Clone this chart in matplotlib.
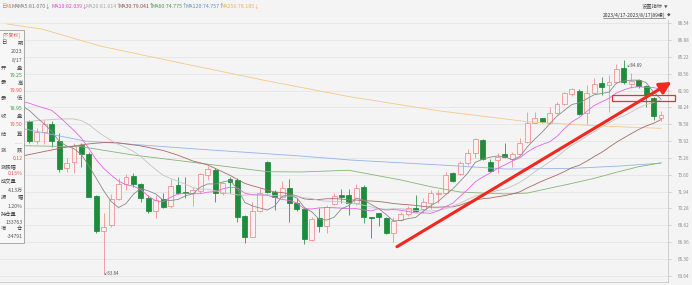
import numpy as np
import matplotlib
matplotlib.use("Agg")
import matplotlib.pyplot as plt
from matplotlib.patches import Rectangle, FancyArrowPatch
from matplotlib.lines import Line2D

plt.rcParams['font.family'] = ['Noto Sans CJK SC', 'DejaVu Sans']

W, H = 692, 285

# ---------------- data ----------------
opens = [80.58, 78.94, 76.96, 77.85, 78.61, 76.93, 74.24, 74.83, 76.54, 75.62,
         71.51, 68.09, 68.65, 71.22, 72.69, 73.48, 72.66, 71.34, 70.03, 71.19,
         70.53, 72.60, 71.94, 71.78, 72.01, 73.58, 74.07, 71.78, 73.16, 73.09,
         69.54, 67.50, 70.06, 74.89, 71.94, 71.44, 72.33, 70.85, 70.20, 67.17,
         69.31, 68.55, 70.70, 71.64, 71.61, 70.79, 72.37, 69.46, 69.81, 69.37,
         67.89, 69.15, 69.71, 70.36, 70.20, 70.79, 71.71, 71.78, 73.75, 73.68,
         74.73, 75.72, 77.03, 74.89, 75.06, 75.70, 75.13, 75.62, 76.86, 78.74,
         79.17, 78.74, 79.66, 80.55, 81.54, 81.89, 79.66, 81.64, 82.68, 82.46,
         82.72, 84.10, 82.55, 82.95, 82.36, 81.14, 79.25]
highs = [80.98, 79.00, 78.22, 79.00, 78.94, 77.72, 75.26, 76.77, 76.71, 75.88,
         71.61, 69.84, 71.71, 73.32, 73.65, 73.75, 72.76, 71.61, 71.61, 71.78,
         73.16, 73.41, 73.41, 72.43, 73.81, 74.47, 74.27, 72.92, 73.41, 73.26,
         69.64, 70.95, 72.27, 74.96, 72.10, 73.02, 73.16, 71.29, 70.30, 69.47,
         70.30, 70.62, 71.84, 72.20, 72.20, 72.66, 72.60, 69.47, 69.86, 69.47,
         69.47, 69.93, 70.56, 71.61, 71.29, 72.10, 72.10, 73.91, 73.91, 74.96,
         76.15, 77.20, 77.10, 75.16, 75.78, 76.71, 75.88, 77.20, 79.82, 79.82,
         79.23, 80.32, 80.81, 81.80, 82.19, 82.03, 82.46, 83.12, 83.27, 83.44,
         84.53, 84.89, 83.67, 83.02, 82.46, 81.30, 79.90]
lows = [78.91, 76.77, 76.64, 76.64, 76.37, 73.91, 73.91, 73.81, 74.40, 71.38,
        67.89, 63.84, 68.49, 71.12, 72.10, 72.43, 70.95, 69.86, 69.31, 70.30,
        70.30, 71.71, 71.29, 70.53, 71.78, 73.09, 70.95, 71.61, 71.78, 68.98,
        66.91, 67.44, 69.93, 71.78, 70.13, 71.29, 68.98, 70.06, 66.78, 67.10,
        67.99, 67.83, 70.62, 70.85, 69.64, 70.62, 68.88, 67.34, 68.55, 67.76,
        67.01, 69.08, 69.57, 69.96, 69.80, 70.20, 70.79, 71.71, 72.92, 73.58,
        74.57, 75.23, 75.06, 73.88, 73.75, 75.23, 74.40, 75.55, 76.77, 78.68,
        78.68, 78.61, 79.60, 80.48, 81.40, 79.50, 78.61, 81.54, 81.47, 79.82,
        82.62, 82.55, 82.13, 82.19, 80.32, 79.00, 78.95]
closes = [79.10, 76.96, 77.85, 78.58, 76.96, 74.14, 74.73, 76.47, 75.62, 71.44,
          68.06, 68.49, 71.22, 72.66, 73.41, 72.69, 71.29, 70.03, 71.12, 70.40,
          72.53, 71.78, 71.84, 72.10, 73.65, 74.14, 71.78, 72.76, 72.92, 69.47,
          67.44, 70.06, 71.78, 71.88, 71.38, 72.27, 70.79, 70.23, 67.24, 69.21,
          68.58, 70.46, 71.56, 71.44, 70.79, 72.27, 69.47, 69.36, 69.47, 67.89,
          69.08, 69.71, 70.30, 70.03, 70.89, 71.78, 71.84, 73.58, 73.02, 74.73,
          75.72, 77.10, 75.13, 74.01, 75.36, 75.31, 75.62, 76.71, 78.74, 79.17,
          78.78, 79.66, 80.55, 81.64, 82.03, 79.60, 81.64, 82.52, 82.29, 82.72,
          84.03, 82.72, 82.88, 82.36, 81.47, 79.38, 79.50]

ma5 = [80.39, 79.94, 79.24, 78.61, 77.89, 76.90, 76.45, 76.18, 75.58, 74.48,
       73.26, 72.02, 70.97, 70.37, 70.77, 71.69, 72.25, 72.02, 71.71, 71.11,
       71.07, 71.17, 71.53, 71.73, 72.38, 72.70, 72.70, 72.89, 73.05, 72.21,
       70.87, 70.53, 70.33, 70.13, 70.51, 71.47, 71.62, 71.31, 70.38, 69.95,
       69.21, 69.14, 69.41, 70.25, 70.57, 71.30, 71.11, 70.67, 70.27, 69.69,
       69.05, 69.10, 69.29, 69.40, 70.00, 70.54, 70.97, 71.62, 72.22, 72.99,
       73.78, 74.83, 75.14, 75.34, 75.46, 75.38, 75.09, 75.40, 76.35, 77.11,
       77.80, 78.61, 79.38, 79.96, 80.53, 80.70, 81.09, 81.49, 81.62, 81.75,
       82.64, 82.86, 82.93, 82.94, 82.69, 81.76, 81.07]
ma10 = [80.85, 80.65, 80.40, 80.18, 79.96, 79.34, 78.66, 77.97, 77.21, 76.19,
        75.08, 74.23, 73.57, 72.98, 72.62, 72.48, 72.14, 71.49, 71.04, 70.94,
        71.38, 71.71, 71.78, 71.72, 71.74, 71.89, 71.94, 72.21, 72.39, 72.30,
        71.79, 71.62, 71.61, 71.59, 71.36, 71.17, 71.08, 70.82, 70.25, 70.23,
        70.34, 70.38, 70.36, 70.32, 70.26, 70.26, 70.13, 70.04, 70.26, 70.13,
        70.18, 70.10, 69.98, 69.84, 69.85, 69.80, 70.04, 70.46, 70.81, 71.50,
        72.16, 72.90, 73.38, 73.78, 74.23, 74.58, 74.96, 75.27, 75.84, 76.29,
        76.59, 76.85, 77.39, 78.15, 78.82, 79.25, 79.85, 80.43, 80.79, 81.14,
        81.67, 81.97, 82.21, 82.28, 82.22, 82.20, 82.04]
ma20 = [78.75, 78.85, 78.95, 79.00, 79.05, 79.10, 79.12, 79.10, 78.95, 78.56,
        77.97, 77.44, 76.99, 76.58, 76.29, 75.91, 75.40, 74.73, 74.13, 73.56,
        73.23, 72.97, 72.67, 72.35, 72.18, 72.18, 72.04, 71.85, 71.72, 71.62,
        71.59, 71.66, 71.69, 71.65, 71.55, 71.53, 71.51, 71.52, 71.32, 71.26,
        71.07, 71.00, 70.99, 70.95, 70.81, 70.72, 70.60, 70.43, 70.26, 70.18,
        70.26, 70.24, 70.17, 70.08, 70.05, 70.03, 70.08, 70.25, 70.54, 70.81,
        71.17, 71.50, 71.68, 71.81, 72.04, 72.19, 72.50, 72.86, 73.33, 73.89,
        74.38, 74.87, 75.39, 75.97, 76.52, 76.92, 77.41, 77.85, 78.32, 78.72,
        79.13, 79.41, 79.80, 80.22, 80.52, 80.73, 81.01]
ma30 = [75.45, 75.60, 75.75, 75.90, 76.05, 76.20, 76.33, 76.45, 76.55, 76.65,
        76.72, 76.78, 76.80, 76.75, 76.65, 76.55, 76.45, 76.30, 76.15, 76.00,
        75.77, 75.53, 75.25, 74.96, 74.78, 74.57, 74.24, 73.89, 73.55, 73.14,
        72.75, 72.52, 72.32, 72.10, 71.91, 71.85, 71.72, 71.51, 71.23, 71.15,
        71.17, 71.24, 71.25, 71.21, 71.12, 71.11, 71.05, 71.02, 70.97, 70.88,
        70.77, 70.70, 70.65, 70.58, 70.49, 70.41, 70.41, 70.44, 70.44, 70.62,
        70.89, 71.13, 71.24, 71.31, 71.44, 71.55, 71.71, 71.92, 72.31, 72.64,
        72.98, 73.28, 73.58, 73.92, 74.30, 74.54, 74.95, 75.39, 75.81, 76.31,
        76.81, 77.24, 77.66, 78.07, 78.42, 78.68, 79.04]
ma60_idx = [0, 8, 15, 24, 33, 37.5, 44, 51, 55, 59, 62, 65, 68, 71, 74, 77, 80, 83, 86]
ma60_val = [76.47, 76.37, 75.55, 74.74, 73.91, 73.88, 74.05, 73.09, 72.43, 71.90,
            71.80, 71.72, 71.80, 72.28, 72.75, 73.25, 73.85, 74.40, 74.775]
ma120_idx = [0, 8.5, 13.2, 24, 37.4, 44.2, 56.3, 65.3, 74.2, 80.5, 86]
ma120_val = [78.17, 76.93, 76.69, 76.12, 75.46, 75.06, 74.57, 74.17, 74.24, 74.47, 74.757]
ma250_idx = [-2, 2.8, 10.5, 21.3, 32.4, 44.1, 56.3, 68.0, 77.8, 86]
ma250_val = [88.47, 87.95, 86.30, 84.63, 82.95, 81.30, 79.89, 78.84, 78.41, 78.185]

yticks = [88.54, 86.88, 85.22, 83.56, 81.90, 80.24, 78.58, 76.92,
          75.26, 73.60, 71.94, 70.28, 68.62, 66.96, 65.30, 63.64]

legend_texts = ["MA5:81.070↓", "MA10:82.039↓", "MA20:81.014↑", "MA30:79.041↑",
                "MA60:74.775↑", "MA120:74.757↑", "MA250:78.185↓"]
ma_colors = ["#8a8a8a", "#e466e4", "#c4c4c4", "#a86a66", "#86b676", "#94b4ea", "#f6c888"]
legend_colors = ["#7a7a7a", "#e040e0", "#a8a8a8", "#8e4a46", "#4f9a4f", "#5a8ae0", "#f0b050"]

panel_labels = ["日期", "开盘", "最高", "最低", "收盘", "结算", "涨跌", "涨跌幅", "成交量", "振幅", "持仓量", "增仓"]
panel_values = ["2023\n8/17", "79.25", "79.90", "78.95", "79.50", "......", "0.12", "0.15%",
                "4.13万", "1.20%", "133763", "-34791"]
panel_value_colors = ["#555555", "#2f9a3c", "#f05050", "#2f9a3c", "#f05050", "#999999",
                      "#f05050", "#f05050", "#555555", "#555555", "#555555", "#555555"]

date_range = "2023/4/17-2023/8/17(89根)"
low_label = "63.84"
high_label = "84.89"

# ---------------- style ----------------
BG = "#f4f4f4"
PINK = "#f08a8a"
GREEN = "#1f8c3c"

fig = plt.figure(figsize=(W / 100, H / 100), dpi=100)
fig.patch.set_facecolor(BG)


def fx(x):
    return x / W


def fy(y):
    return 1 - y / H


ax = fig.add_axes([0, fy(282), fx(668), (282 - 20) / H])
ax.set_facecolor(BG)
ax.set_xlim(-2.961, 86.945)
ax.set_ylim(63.032, 88.865)

ax.yaxis.tick_right()
ax.set_yticks(yticks)
ax.set_yticklabels([f"{v:.2f}" for v in yticks], fontsize=3.3, color="#8c8c8c")
ax.tick_params(axis='y', length=2.2, width=0.5, color="#c4c4c4", pad=5)
ax.set_xticks([])
ax.grid(axis='y', color="#e2e2e2", lw=0.5)
ax.set_axisbelow(True)
for s in ["top", "left"]:
    ax.spines[s].set_visible(False)
for s in ["right", "bottom"]:
    ax.spines[s].set_color("#c8c8c8")
    ax.spines[s].set_linewidth(0.6)

# candles
bw = 0.66
for i, (o, h, l, c) in enumerate(zip(opens, highs, lows, closes)):
    up = c >= o
    col = PINK if up else GREEN
    ax.vlines(i, l, h, color=col, lw=0.55, zorder=2)
    b = min(o, c)
    hgt = max(abs(c - o), 0.05)
    ax.add_patch(Rectangle((i - bw / 2, b), bw, hgt,
                           facecolor=("#fbf1f1" if up else GREEN),
                           edgecolor=col, lw=0.55, zorder=3))

# moving averages
xs = np.arange(len(closes))
ax.plot(ma250_idx, ma250_val, color=ma_colors[6], lw=0.6, zorder=4)
ax.plot(ma120_idx, ma120_val, color=ma_colors[5], lw=0.6, zorder=4)
ax.plot(ma60_idx, ma60_val, color=ma_colors[4], lw=0.6, zorder=4)
ax.plot(xs, ma30, color=ma_colors[3], lw=0.6, zorder=4)
ax.plot(xs, ma20, color=ma_colors[2], lw=0.6, zorder=4)
ax.plot(xs, ma10, color=ma_colors[1], lw=0.6, zorder=4)
ax.plot(xs, ma5, color=ma_colors[0], lw=0.6, zorder=4)

# high / low labels
i_low = int(np.argmin(lows))
i_high = int(np.argmax(highs))
ax.annotate("↙" + low_label, xy=(i_low, lows[i_low]), xytext=(0, 0),
            textcoords="offset pixels", fontsize=3.2, color="#555555",
            ha="left", va="center", zorder=5)
ax.annotate("↙" + high_label, xy=(i_high, highs[i_high]), xytext=(2, -5),
            textcoords="offset pixels", fontsize=3.2, color="#555555",
            ha="left", va="center", zorder=5)

# header
fig.text(fx(0.8), fy(6), "日线", fontsize=3.8, color="#f07840", va="center", ha="left")
fig.text(fx(12), fy(6), "MA", fontsize=3.8, color="#7a7a7a", va="center", ha="left")
legend_x = [18, 51.7, 85, 118.3, 151.7, 185, 220.7]
for lx, t, c in zip(legend_x, legend_texts, legend_colors):
    fig.text(fx(lx), fy(6), t, fontsize=3.8, color=c, va="center", ha="left")

fig.text(fx(641.5), fy(6.7), "设置指标", fontsize=3.8, color="#555555", va="center", ha="left")
fig.text(fx(664), fy(6.7), "▼", fontsize=2.6, color="#555555", va="center", ha="left")
fig.text(fx(603), fy(15), date_range, fontsize=3.6, color="#333333", va="center", ha="left")
fig.add_artist(Line2D([fx(603), fx(665)], [fy(18.3), fy(18.3)], color="#555555", lw=0.4))
fig.text(fx(666.5), fy(15), "◆", fontsize=2.6, color="#555555", va="center", ha="left")

# info panel
fig.add_artist(Rectangle((fx(-2), fy(243)), fx(25.5), (243 - 30) / H, transform=fig.transFigure,
                         facecolor="#f7f7f7", edgecolor="#9c9c9c", lw=0.6, zorder=10))
fig.text(fx(3), fy(35.5), "[不复权]", fontsize=3.5, color="#e86060", va="center", ha="left", zorder=11)
label_y = [43, 68, 83, 99, 117, 134, 150, 167, 182, 197, 214, 229]
value_y = [56, 75.5, 91, 108, 125, 142, 158, 173.5, 190, 207, 222, 237]
for ly, vy, lab, val, vc in zip(label_y, value_y, panel_labels, panel_values, panel_value_colors):
    if len(lab) == 2:
        fig.text(fx(0.6), fy(ly), lab[0], fontsize=3.8, color="#444444", va="center", ha="left", zorder=11)
        fig.text(fx(22.5), fy(ly), lab[1], fontsize=3.8, color="#444444", va="center", ha="right", zorder=11)
    else:
        fig.text(fx(0.6), fy(ly), lab, fontsize=3.8, color="#444444", va="center", ha="left", zorder=11)
    fig.text(fx(22.5), fy(vy), val, fontsize=3.7, color=vc, va="center", ha="right",
             linespacing=2.0, zorder=11)

# red annotations
fig.add_artist(FancyArrowPatch(posA=(fx(397), fy(246.7)), posB=(fx(671.5), fy(82)),
                               transform=fig.transFigure, arrowstyle="-|>,head_length=7,head_width=3.6",
                               mutation_scale=1, lw=2.2, color="#f0281e", shrinkA=0, shrinkB=0, zorder=12))
fig.add_artist(Rectangle((fx(611.7), fy(100.7)), fx(675) - fx(611.7), (100.7 - 95) / H,
                         transform=fig.transFigure, fill=False, edgecolor="#f03030", lw=0.9, zorder=12))

fig.savefig("out.png", dpi=100, facecolor=BG)
